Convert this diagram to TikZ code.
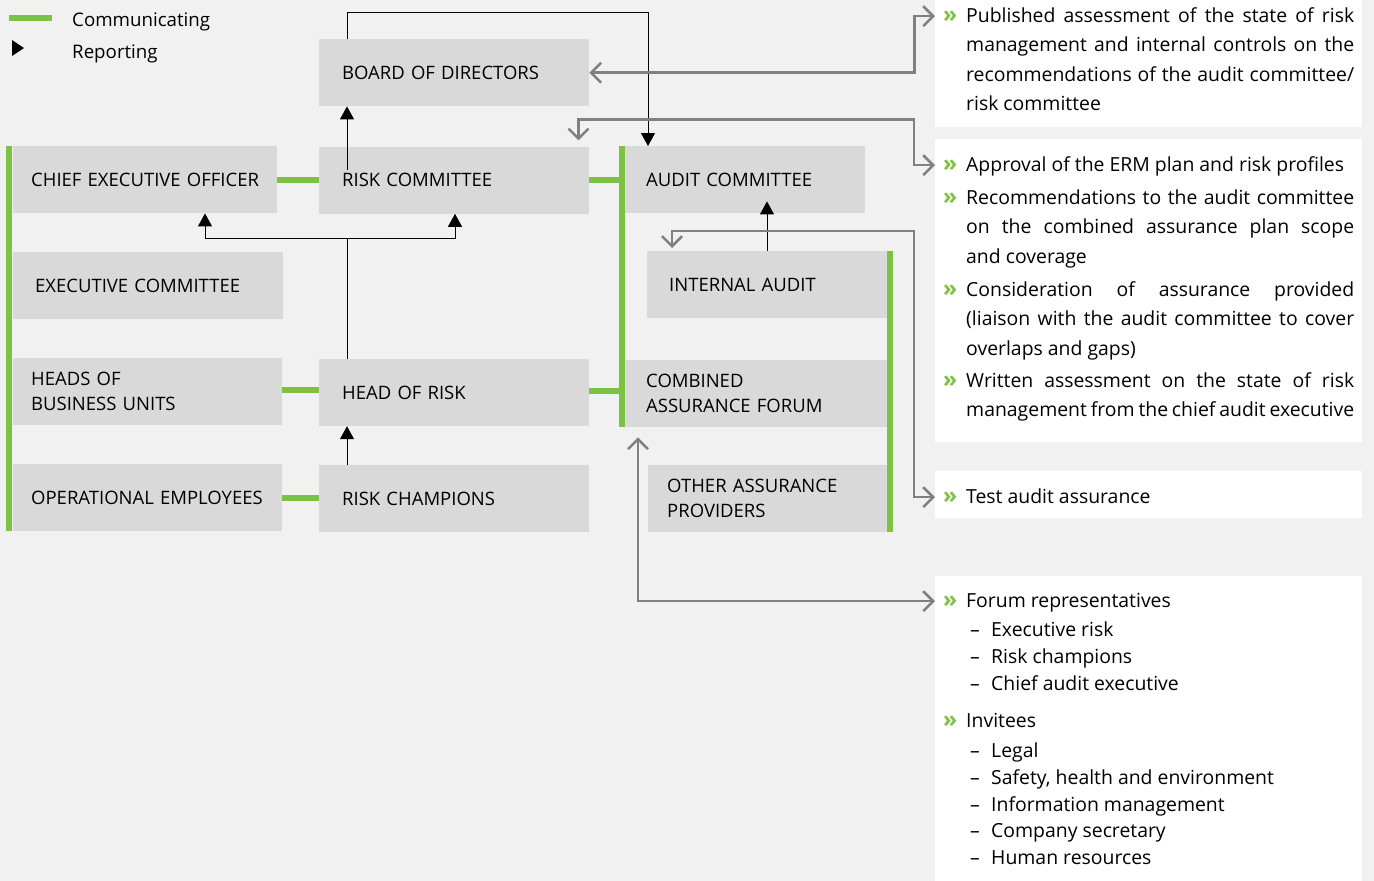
\documentclass[tikz,border=0pt]{standalone}
\usepackage{fontspec}
\setmainfont{Open Sans}
\usetikzlibrary{arrows.meta,positioning}

\definecolor{bggray}{RGB}{241,241,241}
\definecolor{boxgray}{RGB}{217,217,217}
\definecolor{leafgreen}{RGB}{125,194,66}
\definecolor{linegray}{RGB}{128,128,128}

\newcommand{\jline}[1]{\makebox[388pt][s]{#1}}
\newcommand{\dashentry}[1]{\hspace*{4pt}\makebox[21pt][l]{--}#1}
\newcommand{\para}[1]{\parbox[t]{400pt}{#1}}

\begin{document}
\begin{tikzpicture}[x=1pt, y=-1pt, node distance=40pt,
    box/.style={fill=boxgray, anchor=north west, minimum height=67pt, inner xsep=20pt,
                text width=#1, align=left, font=\fontsize{18.5}{25}\selectfont},
    panel/.style={fill=white, anchor=north west, minimum width=427pt, inner sep=0pt},
    txt/.style={anchor=base west, inner sep=0pt, font=\fontsize{19.4}{29.5}\selectfont},
    chevron/.style={anchor=base west, inner sep=0pt, text=leafgreen, font=\fontsize{23}{29.5}\selectfont\bfseries},
    comm/.style={draw=leafgreen, line width=6pt},
    report/.style={draw=black, line width=1pt, -{Triangle[width=14pt,length=13pt]}},
    info/.style={draw=linegray, line width=2.5pt,
                 {Straight Barb[length=10pt,width=20pt]}-{Straight Barb[length=10pt,width=20pt]}}]

  % canvas
  \fill[bggray] (0,0) rectangle (1374,881);
  \useasboundingbox (0,0) rectangle (1374,881);

  % legend
  \draw[comm] (9,18) -- (52,18);
  \fill[black] (12,40) -- (24,48) -- (12,56) -- cycle;
  \node[txt, font=\fontsize{18.7}{22}\selectfont] (lgcomm) at (72,26) {Communicating};
  \node[txt, font=\fontsize{18.7}{22}\selectfont] (lgrep) at (72,58) {Reporting};

  % white panels on the right
  \node[panel, minimum height=127pt] (pan1) at (935,0) {};
  \node[panel, minimum height=303pt] (pan2) at (935,139) {};
  \node[panel, minimum height=47pt] (pan3) at (935,471) {};
  \node[panel, minimum height=305pt] (pan4) at (935,576) {};

  % boxes
  \node[box=224pt, inner xsep=23pt] (board) at (319,39) {BOARD OF DIRECTORS};
  \node[box=224pt, inner xsep=23pt] (risk) [below=of board] {RISK COMMITTEE};
  \node[box=224pt, inner xsep=23pt] (hrisk) [below=145pt of risk] {HEAD OF RISK};
  \node[box=224pt, inner xsep=23pt] (champ) [below=39pt of hrisk] {RISK CHAMPIONS};

  \node[box=228pt, inner xsep=18pt] (ceo) at (13,146) {\mbox{CHIEF EXECUTIVE OFFICER}};
  \node[box=226pt, inner xsep=22pt] (exec) at (13,252) {EXECUTIVE COMMITTEE};
  \node[box=233pt, inner xsep=18pt] (heads) at (13,358) {HEADS OF\\BUSINESS UNITS};
  \node[box=233pt, inner xsep=18pt] (ops) at (13,464) {\mbox{OPERATIONAL EMPLOYEES}};

  \node[box=198pt, inner xsep=21pt] (audit) at (625,146) {AUDIT COMMITTEE};
  \node[box=196pt, inner xsep=22pt] (iaudit) at (647,251) {INTERNAL AUDIT};
  \node[box=220pt, inner xsep=21pt] (forum) at (625,360) {COMBINED\\ASSURANCE FORUM};
  \node[box=201pt, inner xsep=19pt] (other) at (648,465) {OTHER ASSURANCE\\PROVIDERS};

  % communicating
  \draw[comm] ([xshift=-4pt]ceo.north west) -- ([xshift=-4pt]ops.south west);
  \draw[comm] ([xshift=-3pt]audit.north west) -- ([xshift=-3pt]forum.south west);
  \draw[comm] ([xshift=3pt]iaudit.north east) -- ([xshift=3pt]other.south east);
  \draw[comm] (ceo.east) -- (ceo.east -| risk.west);
  \draw[comm] (risk.east) -- ([xshift=-3pt]risk.east -| audit.west);
  \draw[comm] ([yshift=2pt]heads.east) -- ([yshift=2pt]heads.east -| hrisk.west);
  \draw[comm] ([yshift=2pt]hrisk.east) -- ([xshift=-3pt,yshift=2pt]hrisk.east -| audit.west);
  \draw[comm] (ops.east) -- (ops.east -| champ.west);

  % reporting
  \draw[report] ([xshift=28pt,yshift=-24pt]risk.north west) -- ([xshift=28pt]board.south west);
  \draw[report] ([xshift=28pt]board.north west) -- ++(0,-27) -| ([xshift=23pt]audit.north west);
  \draw[report] ([xshift=28pt]hrisk.north west) -- ++(0,-120) coordinate (fork)
                -| ([xshift=192pt]ceo.south west);
  \draw[report] (fork) -| ([xshift=136pt]risk.south west);
  \draw[report] ([xshift=28pt]champ.north west) -- ([xshift=28pt]hrisk.south west);
  \draw[report] ([xshift=120pt]iaudit.north west) -- ([xshift=142pt,yshift=12pt]audit.south west);

  % panel texts
  \node[chevron] (m1) at (943,22) {»};
  \node[txt] (pub) at (966,22) {\para{\jline{Published assessment of the state of risk}\\
    \jline{management and internal controls on the}\\
    \jline{recommendations of the audit committee/}\\
    risk committee}};

  \node[chevron] (m2) at (943,171) {»};
  \node[txt] (erm) at (966,171) {Approval of the ERM plan and risk profiles};
  \node[chevron] (m3) at (943,204) {»};
  \node[txt] (recs) at (966,204) {\para{\jline{Recommendations to the audit committee}\\
    \jline{on the combined assurance plan scope}\\
    and coverage}};
  \node[chevron] (m4) at (943,296) {»};
  \node[txt] (cons) at (966,296) {\para{\jline{Consideration of assurance provided}\\
    \jline{(liaison with the audit committee to cover}\\
    overlaps and gaps)}};
  \node[chevron] (m5) at (943,387) {»};
  \node[txt] (writ) at (966,387) {\para{\jline{Written assessment on the state of risk}\\
    \jline{management from the chief audit executive}}};

  \node[chevron] (m6) at (943,503) {»};
  \node[txt] (test) at (966,503) {Test audit assurance};

  \node[chevron] (m7) at (943,607) {»};
  \node[txt, font=\fontsize{19.4}{26.7}\selectfont] (reps) at (966,607) {\para{Forum representatives\\[3pt]
    \dashentry{Executive risk}\\
    \dashentry{Risk champions}\\
    \dashentry{Chief audit executive}}};
  \node[chevron] (m8) at (943,727) {»};
  \node[txt, font=\fontsize{19.4}{26.7}\selectfont] (invit) at (966,727) {\para{Invitees\\[4pt]
    \dashentry{Legal}\\
    \dashentry{Safety, health and environment}\\
    \dashentry{Information management}\\
    \dashentry{Company secretary}\\
    \dashentry{Human resources}}};

  % information flows
  \draw[info] (board.east) -- ++(325,0) |- (pan1.west |- m1);
  \draw[info] ([xshift=-11pt,yshift=6pt]risk.north east) -- ++(0,-21) -| ([xshift=-21pt]pan2.west |- m2)
              -- (pan2.west |- m2);
  \draw[info] ([xshift=25pt,yshift=3pt]iaudit.north west) -- ++(0,-17) -| ([xshift=-21pt]pan3.west |- m6)
              -- (pan3.west |- m6);
  \draw[info] ([xshift=13pt,yshift=-10pt]forum.south west) |- (pan4.west |- m7);
\end{tikzpicture}
\end{document}
